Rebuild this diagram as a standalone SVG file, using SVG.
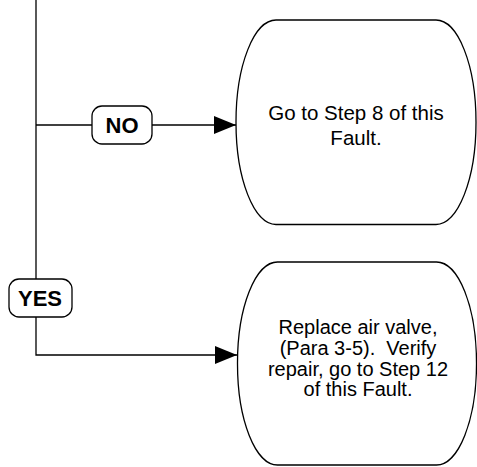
<svg xmlns="http://www.w3.org/2000/svg" width="477" height="467" viewBox="0 0 477 467">
  <style>
    .line { fill: none; stroke: #000; stroke-width: 1.3; }
    .box { fill: #fff; stroke: #000; stroke-width: 1.3; }
    .label { font-family: "Liberation Sans", Arial, sans-serif; font-size: 22px; font-weight: bold; text-anchor: middle; fill: #000; }
    .body { font-family: "Liberation Sans", Arial, sans-serif; font-size: 20.5px; text-anchor: middle; fill: #000; white-space: pre; }
    .tight { font-size: 20px; }
  </style>
  <defs>
    <marker id="arrow" markerWidth="22" markerHeight="18" refX="22" refY="9" orient="auto" markerUnits="userSpaceOnUse">
      <path d="M0,0 L22,9 L0,18 Z" fill="#000"/>
    </marker>
  </defs>
  <rect width="477" height="467" fill="#fff"/>

  <!-- connectors -->
  <g id="connectors">
    <path class="line" d="M36,0 L36,355 L237,355" marker-end="url(#arrow)"/>
    <path class="line" d="M36,125 L236,125" marker-end="url(#arrow)"/>
  </g>

  <!-- branch labels -->
  <g id="label-no">
    <rect class="box" x="92" y="106" width="60" height="38" rx="10" ry="10"/>
    <text class="label" x="122" y="133">NO</text>
  </g>
  <g id="label-yes">
    <rect class="box" x="9" y="279" width="63" height="38" rx="10" ry="10"/>
    <text class="label" x="40" y="306">YES</text>
  </g>

  <!-- outcome nodes -->
  <g id="step8">
    <rect class="box" x="236" y="20" width="240" height="204.5" rx="40" ry="102"/>
    <text class="body" x="356" y="120">Go to Step 8 of this</text>
    <text class="body" x="356" y="145">Fault.</text>
  </g>
  <g id="replace-valve">
    <rect class="box" x="237.5" y="262" width="239" height="203" rx="40" ry="101"/>
    <text class="body tight" x="358" y="334">Replace air valve,</text>
    <text class="body tight" x="358" y="355" xml:space="preserve">(Para 3-5).  Verify</text>
    <text class="body tight" x="358" y="376">repair, go to Step 12</text>
    <text class="body tight" x="358" y="396">of this Fault.</text>
  </g>
</svg>
